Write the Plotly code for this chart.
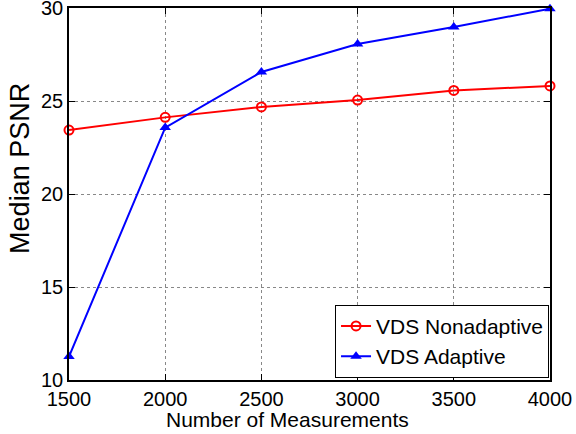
import plotly.graph_objects as go

measurements = [1500, 2000, 2500, 3000, 3500, 4000]
nonadaptive = [23.44, 24.12, 24.68, 25.05, 25.57, 25.81]
adaptive = [11.26, 23.57, 26.56, 28.06, 28.98, 29.96]

fig = go.Figure()
fig.add_trace(go.Scatter(
    x=measurements, y=nonadaptive, mode="lines+markers", name="VDS Nonadaptive",
    line=dict(color="#ff0000", width=2),
    marker=dict(symbol="circle-open", size=9, color="#ff0000", line=dict(width=2)),
    cliponaxis=False))
fig.add_trace(go.Scatter(
    x=measurements, y=adaptive, mode="lines+markers", name="VDS Adaptive",
    line=dict(color="#0000ff", width=2),
    marker=dict(symbol="triangle-up", size=10, color="#0000ff"),
    cliponaxis=False))

axis_common = dict(
    showline=True, linecolor="black", linewidth=1.5, mirror="ticks",
    ticks="inside", ticklen=6, tickcolor="black",
    showgrid=True, gridcolor="#888888", griddash="dot", gridwidth=1,
    zeroline=False, tickfont=dict(size=20, color="black"), automargin=False,
    ticklabeloverflow="allow",
)
fig.update_xaxes(range=[1500, 4000], tickvals=measurements, **axis_common)
fig.update_yaxes(range=[10, 30], tickvals=[10, 15, 20, 25, 30], **axis_common)

# axis titles placed as annotations to match the reference's positions
fig.add_annotation(text="Number of Measurements", xref="paper", yref="paper",
                   x=0.455, y=-0.105, xanchor="center", yanchor="middle",
                   showarrow=False, font=dict(size=21, color="black"))
fig.add_annotation(text="Median PSNR", xref="paper", yref="paper",
                   x=-0.102, y=0.57, xanchor="center", yanchor="middle",
                   textangle=-90, showarrow=False, font=dict(size=27, color="black"))

fig.update_layout(
    width=576, height=434,
    margin=dict(l=69, r=26, t=8, b=54, autoexpand=False),
    paper_bgcolor="white", plot_bgcolor="white",
    font=dict(family="Liberation Sans, Arial, sans-serif", color="black"),
    legend=dict(x=0.998, y=0.006, xanchor="right", yanchor="bottom",
                bgcolor="white", bordercolor="black", borderwidth=1,
                font=dict(size=21), tracegroupgap=0, itemwidth=30),
    showlegend=True,
)
fig.write_html("out.html", config={"displayModeBar": False},
               post_script="document.body.style.margin='0';")
